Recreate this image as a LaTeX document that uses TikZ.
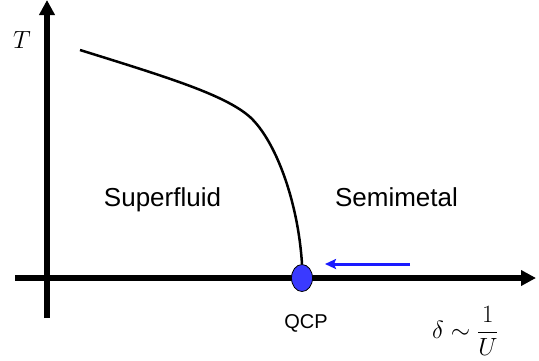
\documentclass[tikz,border=0pt]{standalone}
\usepackage{fontspec}
\setsansfont{Liberation Sans}
\usetikzlibrary{arrows.meta,shapes.geometric}
\begin{document}
\begin{tikzpicture}[x=1pt,y=-1pt,
  axis/.style={line width=5.5pt,-{Triangle[length=15pt,width=15pt]}},
  phaseline/.style={line width=2.5pt,black},
  sflabel/.style={font=\sffamily\fontsize{26}{30}\selectfont,anchor=base,inner sep=0pt},
  qcplabel/.style={font=\sffamily\fontsize{20}{24}\selectfont,anchor=base,inner sep=0pt},
  mathlabel/.style={font=\fontsize{31}{36}\selectfont,anchor=base,inner sep=0pt},
  qcpdot/.style={ellipse,draw=black,line width=0.8pt,fill=qcpblue,minimum width=21pt,minimum height=27pt,inner sep=0pt},
  flowarrow/.style={line width=3pt,arrowblue,-{Stealth[length=11pt,width=10pt,inset=2pt]}}
]
\definecolor{qcpblue}{HTML}{3A3AFF}
\definecolor{arrowblue}{HTML}{1A1AFF}
\useasboundingbox (0,0) rectangle (539,360);
% axes
\coordinate (xs) at (15,278);
\coordinate (xe) at (536,278);
\coordinate (ys) at (47,318);
\coordinate (ye) at (47,0);
\draw[axis] (xs) -- (xe);
\draw[axis] (ys) -- (ye);
% QCP
\node[qcpdot] (qcp) at (302,278) {};
% phase boundary
\coordinate (cs) at (80,50);
\coordinate (cm) at (250,117);
\draw[phaseline] (cs) .. controls (170,78) and (225,95) .. (cm)
  .. controls (275,140) and (298,200) .. (qcp.north);
% arrow
\coordinate (as) at (410,264);
\coordinate (ae) at (325,264);
\draw[flowarrow] (as) -- (ae);
% labels
\node[sflabel] (sf) at (162.5,206) {Superfluid};
\node[sflabel] (sm) at (396.5,206) {Semimetal};
\node[qcplabel] (ql) at (306,328) {QCP};
\node[mathlabel] (tl) at (22,48) {$T$};
\node[font=\fontsize{25}{29}\selectfont,anchor=west,inner sep=0pt] (dl) at (432,331) {$\displaystyle \delta\sim\frac{1}{U}$};
\end{tikzpicture}
\end{document}
